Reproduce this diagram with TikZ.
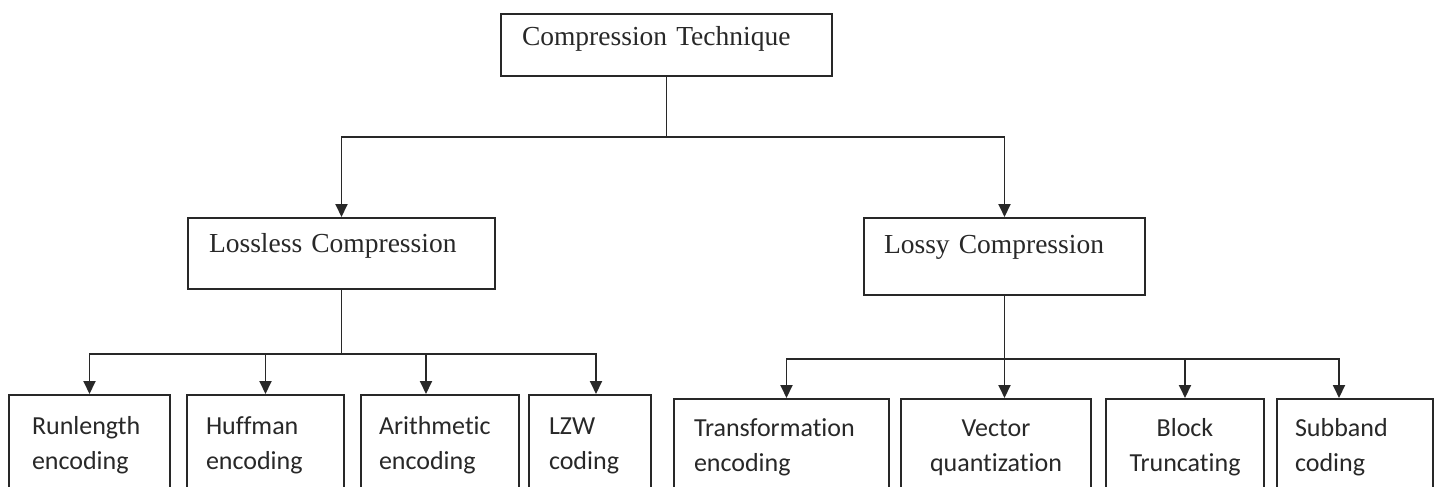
\documentclass[tikz,border=0pt]{standalone}
\usepackage{fontspec}
\setmainfont[WordSpace=0.6]{Liberation Serif}
\newfontfamily\calibrifont[Ligatures=NoCommon]{Carlito}
\usetikzlibrary{arrows.meta}
\definecolor{ink}{RGB}{40,40,40}
\tikzset{
    headbox/.style={draw=ink, text=ink, line width=2pt, anchor=north west,
        inner ysep=0pt, align=left, font=\fontsize{27.5}{32}\selectfont},
    leafbox/.style={draw=ink, text=ink, line width=2pt, anchor=north west,
        inner ysep=0pt, align=left, font=\calibrifont\fontsize{26}{35}\selectfont},
    link/.style={draw=ink, line width=1.9pt}
}
\begin{document}
\begin{tikzpicture}[>={Triangle[length=13pt,width=12pt]}, x=1pt, y=-1pt]
    \useasboundingbox (0,0) rectangle (1437,487);
    \clip (0,0) rectangle (1437,487);
    \fill[white] (0,0) rectangle (1437,487);

    % top and second level
    \node[headbox, inner xsep=21pt, text width=289pt, text height=32pt, text depth=30pt] (tech) at (500,13) {Compression Technique};
    \node[headbox, inner xsep=21pt, text width=265pt, text height=34pt, text depth=37pt] (lossless) at (187,217) {Lossless Compression};
    \node[headbox, inner xsep=20pt, text width=241pt, text height=35pt, text depth=42pt] (lossy) at (863,217) {Lossy Compression};

    % leaves
    \node[leafbox, inner xsep=23pt, text width=115pt, text height=39pt, text depth=100pt] (run) at (8,394) {Runlength\\encoding};
    \node[leafbox, inner xsep=19pt, text width=119pt, text height=39pt, text depth=100pt] (huff) at (186,394) {Huffman\\encoding};
    \node[leafbox, inner xsep=18pt, text width=122pt, text height=39pt, text depth=100pt] (arith) at (360,394) {Arithmetic\\encoding};
    \node[leafbox, inner xsep=20pt, text width=82pt, text height=39pt, text depth=100pt] (lzw) at (528,394) {LZW\\coding};
    \node[leafbox, inner xsep=20pt, text width=175pt, text height=37pt, text depth=100pt] (trans) at (673,398) {Transformation\\encoding};
    \node[leafbox, align=center, inner xsep=10pt, text width=170pt, text height=37pt, text depth=100pt] (vect) at (900,398) {Vector\\quantization};
    \node[leafbox, align=center, inner xsep=10pt, text width=138pt, text height=37pt, text depth=100pt] (block) at (1105,398) {Block\\Truncating};
    \node[leafbox, inner xsep=18pt, text width=120pt, text height=37pt, text depth=100pt] (sub) at (1276,398) {Subband\\coding};

    % connectors
    \draw[link] (tech.south) -- ++(0,60) coordinate (hubA);
    \draw[link,->] (hubA) -| (lossless.north);
    \draw[link,->] (hubA) -| (lossy.north);

    \draw[link] (lossless.south) -- ++(0,64) coordinate (hubB);
    \foreach \n/\s in {run/0pt,huff/0pt,arith/-14pt,lzw/6pt}
    {
        \draw[link,->] (hubB) -| ([xshift=\s]\n.north);
    }
    \draw[link] (lossy.south) -- ++(0,63) coordinate (hubC);
    \foreach \n/\s in {trans/5pt,vect/8.5pt,block/0pt,sub/-16pt}
    {
        \draw[link,->] (hubC) -| ([xshift=\s]\n.north);
    }
\end{tikzpicture}
\end{document}
